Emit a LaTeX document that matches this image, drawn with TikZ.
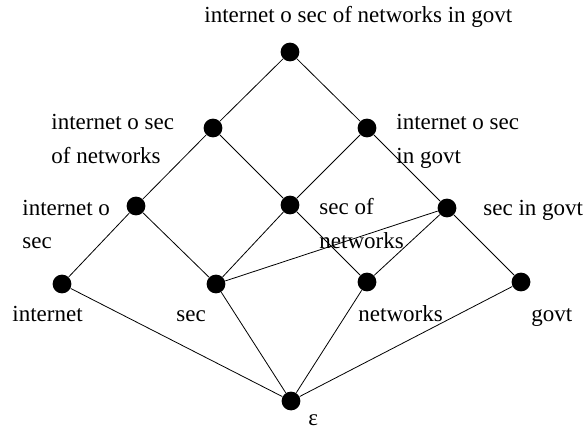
\documentclass[tikz,border=0pt]{standalone}
\usepackage{fontspec}
\setmainfont{Liberation Serif}
\usetikzlibrary{positioning}

\begin{document}
\begin{tikzpicture}[x=0.5pt, y=-0.5pt,
	dot/.style={circle, fill=black, inner sep=0pt, minimum size=9.4pt},
	lbl/.style={anchor=base west, inner sep=0pt, align=left, font=\fontsize{11.5}{17}\selectfont}]
	\useasboundingbox (0,0) rectangle (585,428);

	% lattice points
	\node[dot] (all) at (290,52) {};
	\node[dot] (ion) at (213,128) {};
	\node[dot] (iog) at (367,128) {};
	\node[dot] (ios) at (136,206) {};
	\node[dot] (son) at (290,205) {};
	\node[dot] (sig) at (447,208) {};
	\node[dot] (inet) at (62,284) {};
	\node[dot] (sec) at (216,284) {};
	\node[dot] (net) at (367,282) {};
	\node[dot] (govt) at (521,282) {};
	\node[dot] (eps) at (291,401) {};

	% labels (two-line ones sit on their last baseline)
	\node[lbl] (all-l) at (204,23) {internet o sec of networks in govt};
	\node[lbl] (ion-l) at (51,163) {internet o sec\\of networks};
	\node[lbl] (iog-l) at (396,163) {internet o sec\\in govt};
	\node[lbl] (ios-l) at (22,249) {internet o\\sec};
	\node[lbl] (son-l) at (319,248) {sec of\\networks};
	\node[lbl] (sig-l) at (483,215) {sec in govt};
	\node[lbl] (inet-l) at (12,321) {internet};
	\node[lbl] (sec-l) at (176,321) {sec};
	\node[lbl] (net-l) at (358,321) {networks};
	\node[lbl] (govt-l) at (531,321) {govt};
	\node[lbl] (eps-l) at (308,425) {ε};

	\draw (all) -- (ion);
	\draw (all) -- (iog);
	\draw (ion) -- (ios);
	\draw (ion) -- (son);
	\draw (iog) -- (son);
	\draw (iog) -- (sig);
	\draw (ios) -- (inet);
	\draw (ios) -- (sec);
	\draw (son) -- (sec);
	\draw (son) -- (net);
	\draw (sig) -- (sec);
	\draw (sig) -- (net);
	\draw (sig) -- (govt);
	\draw (inet) -- (eps);
	\draw (sec) -- (eps);
	\draw (net) -- (eps);
	\draw (govt) -- (eps);
\end{tikzpicture}
\end{document}
